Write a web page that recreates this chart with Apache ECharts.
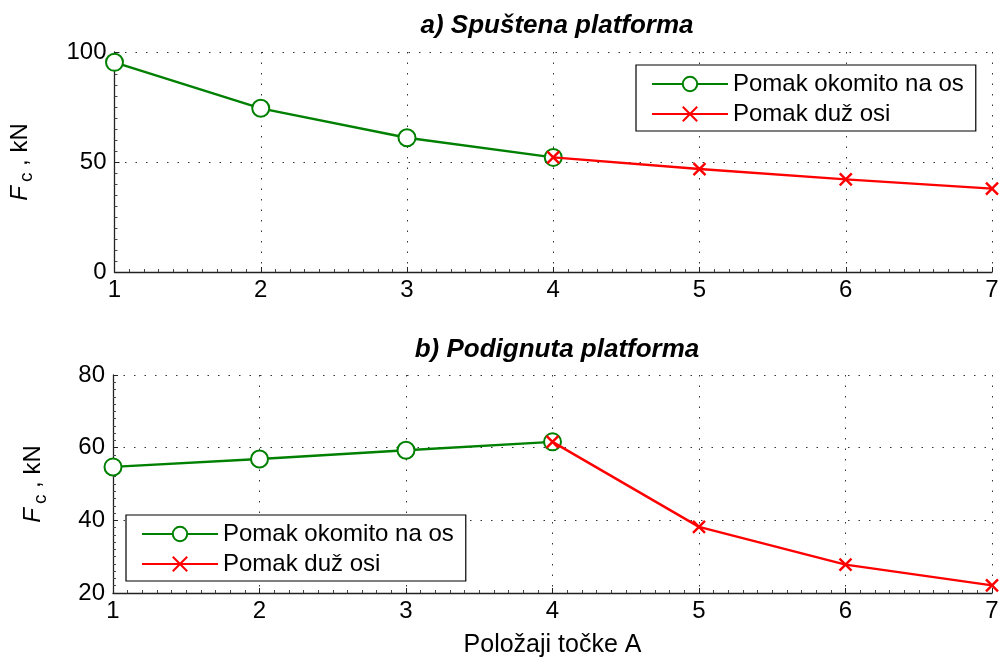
<!DOCTYPE html>
<html>
<head>
<meta charset="utf-8">
<script src="https://cdn.jsdelivr.net/npm/echarts@6/dist/echarts.min.js"></script>
<style>
  html, body { margin: 0; padding: 0; background: #fff; }
  #chart { width: 1002px; height: 666px; }
</style>
</head>
<body>
<div id="chart"></div>
<script>
// polozaji tocke A
const positions = [1, 2, 3, 4, 5, 6, 7]
const seriesNames = ['Pomak okomito na os', 'Pomak duž osi']
const titles = ['a) Spuštena platforma', 'b) Podignuta platforma']

// a) spustena platforma
const downOkomito = [95.3, 74.4, 61.0, 52.1, null, null, null]
const downDuz = [null, null, null, 52.1, 46.8, 42.1, 37.9]
// b) podignuta platforma
const upOkomito = [54.7, 56.9, 59.3, 61.6, null, null, null]
const upDuz = [null, null, null, 61.6, 38.2, 27.8, 22.1]

const FONT = '"Liberation Sans", Arial, sans-serif'
const GREEN = '#008000'
const RED = '#ff0000'
const CROSS = 'path://M0,0L10,10M10,0L0,10'

function pairs(vals) {
  return positions.map((x, i) => [x, vals[i]])
}

function xAxis(idx, showName) {
  return {
    type: 'value', gridIndex: idx, min: 1, max: 7, interval: 1,
    name: showName ? 'Položaji točke A' : '',
    nameLocation: 'middle', nameGap: 40,
    nameTextStyle: { fontFamily: FONT, fontSize: 25, color: '#000' },
    axisLine: { onZero: false, lineStyle: { color: '#222', width: 1.3 } },
    axisTick: { inside: true, length: 5, lineStyle: { color: '#222' } },
    minorTick: { show: true, splitNumber: 10, length: 3, lineStyle: { color: '#444' } },
    axisLabel: { fontFamily: FONT, fontSize: 24, color: '#000', margin: 6 },
    splitLine: { show: true, lineStyle: { color: '#333', type: [1.5, 9], width: 1 } }
  }
}

function yAxis(idx, min, max, interval, gap) {
  return {
    type: 'value', gridIndex: idx, min: min, max: max, interval: interval,
    name: '{i|F}{s|c}{n| , kN}',
    nameLocation: 'middle', nameGap: gap, nameRotate: 90,
    nameTextStyle: {
      fontFamily: FONT, color: '#000',
      rich: {
        i: { fontFamily: FONT, fontSize: 24, fontStyle: 'italic', color: '#000' },
        s: { fontFamily: FONT, fontSize: 19, color: '#000', padding: [14, 0, 0, 4] },
        n: { fontFamily: FONT, fontSize: 24, color: '#000' }
      }
    },
    axisLine: { show: true, lineStyle: { color: '#222', width: 1.3 } },
    axisTick: { show: true, inside: true, length: 5, lineStyle: { color: '#222' } },
    minorTick: { show: true, splitNumber: 10, length: 3, lineStyle: { color: '#444' } },
    axisLabel: { fontFamily: FONT, fontSize: 24, color: '#000', margin: 8 },
    splitLine: { show: true, lineStyle: { color: '#333', type: [1.5, 9], width: 1 } }
  }
}

function lineSeries(name, idx, vals, isCross) {
  const color = isCross ? RED : GREEN
  return {
    name: name, type: 'line', xAxisIndex: idx, yAxisIndex: idx,
    data: pairs(vals),
    symbol: isCross ? CROSS : 'emptyCircle',
    symbolSize: isCross ? 12 : 17,
    showAllSymbol: true,
    lineStyle: { color: color, width: 2.4 },
    itemStyle: { color: color, borderColor: color, borderWidth: 2.4 },
    z: isCross ? 3 : 2,
    animation: false
  }
}

function legend(left, top) {
  return {
    orient: 'vertical', left: left, top: top,
    data: seriesNames,
    itemWidth: 76, itemHeight: 18, itemGap: 6,
    padding: [7, 12, 5, 15],
    borderColor: '#000', borderWidth: 1.2, backgroundColor: '#fff',
    textStyle: { fontFamily: FONT, fontSize: 24, color: '#000' }
  }
}

let chart = echarts.init(document.getElementById('chart'), null, { renderer: 'canvas' })
let option = {
  backgroundColor: '#fff',
  animation: false,
  title: titles.map((t, i) => ({
    text: t, left: 552, top: i === 0 ? 8 : 332, textAlign: 'center',
    textStyle: { fontFamily: FONT, fontSize: 26, fontWeight: 'bold', fontStyle: 'italic', color: '#000' }
  })),
  grid: [
    { left: 113, right: 10, top: 52, height: 220 },
    { left: 113, right: 10, top: 375, height: 218 }
  ],
  legend: [legend(636, 65), legend(126, 515)],
  xAxis: [xAxis(0, false), xAxis(1, true)],
  yAxis: [yAxis(0, 0, 100, 50, 78), yAxis(1, 20, 80, 20, 63)],
  series: [
    lineSeries(seriesNames[0], 0, downOkomito, false),
    lineSeries(seriesNames[1], 0, downDuz, true),
    lineSeries(seriesNames[0], 1, upOkomito, false),
    lineSeries(seriesNames[1], 1, upDuz, true)
  ]
}
chart.setOption(option)
</script>
</body>
</html>
